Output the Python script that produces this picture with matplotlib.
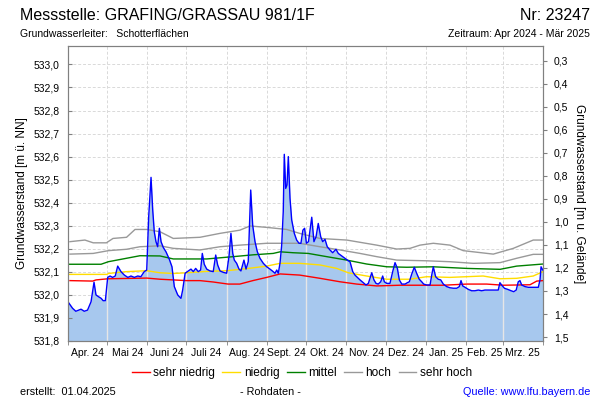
import datetime as dt
import numpy as np
import matplotlib
matplotlib.use("Agg")
import matplotlib.pyplot as plt
import matplotlib.dates as mdates
from matplotlib.lines import Line2D
from matplotlib.ticker import FixedLocator, FuncFormatter

plt.rcParams['font.family'] = ['Liberation Sans', 'DejaVu Sans']

start = dt.datetime(2024, 4, 1)
ground = 533.317  # Geländehöhe, für die rechte Achse

# Messwerte (Tag ab 01.04.2024, Wasserstand m ü. NN)
level_days = [0, 3.5, 6, 10, 12.5, 15, 17.7, 20, 21.5, 23.5, 25.5, 27, 28.7, 30.5, 32.3, 34.3,
              36.3, 38.2, 40.7, 43.3, 46, 48.4, 51, 53.6, 56, 58.6, 60.5, 62, 63.8, 65.1, 66.3,
              67.6, 68.9, 70.2, 71.5, 73.2, 75.3, 77.9, 79.9, 81.7, 84.3, 86.8, 88.1, 90, 92.5,
              94.5, 96.3, 98.1, 100.1, 101.9, 103.2, 104.7, 106.6, 109.1, 111.6, 113.5, 115,
              116.8, 119.3, 121.9, 123.7, 125.2, 126.6, 127.8, 129.6, 131.4, 132.9, 135.2, 136.8,
              138.5, 140.4, 141.9, 143.7, 145.5, 147.5, 150.1, 152.7, 155.2, 157, 159.1, 160.4,
              161.6, 162.9, 164.2, 165.4, 166.2, 167.3, 168.3, 169.3, 170.6, 171.9, 173.9, 175.7,
              177.5, 179, 180.5, 181.8, 183.2, 184.8, 187.3, 189, 190.6, 192.3, 194.2, 195.7,
              197.5, 199.2, 201.3, 203.4, 205.9, 207.7, 210.3, 212.8, 215.4, 216.7, 218.8, 220.5,
              222.3, 224.4, 226.9, 229, 230.8, 233.4, 235.1, 236.7, 238.4, 240.3, 241.8, 243.1,
              244.9, 247.4, 249.5, 251.3, 253.1, 254.6, 256.5, 259, 260.8, 262.3, 264.1, 266.1,
              267.9, 269.9, 271.8, 273.3, 275.6, 278.2, 279.5, 280.7, 282.5, 284.5, 286.4, 288.4,
              291, 293.5, 296.1, 298.7, 300.7, 302, 303.3, 305.1, 307.6, 310.2, 312.7, 315.3,
              317.9, 320.4, 323, 325.6, 328.1, 330.6, 331.9, 333.2, 335.3, 337.9, 340.5, 342.5,
              344.4, 346, 347.3, 348.6, 351.2, 353.7, 356.3, 358.8, 361.4, 362.7, 363.5, 364.8]
level = [531.970, 531.942, 531.929, 531.938, 531.929, 531.934, 531.970, 532.055, 532.000, 531.992,
         531.985, 531.975, 531.975, 532.076, 532.082, 532.076, 532.082, 532.125, 532.101, 532.086,
         532.076, 532.082, 532.076, 532.082, 532.079, 532.101, 532.108, 532.339, 532.510, 532.368,
         532.274, 532.231, 532.209, 532.289, 532.231, 532.206, 532.187, 532.154, 532.122, 532.036,
         532.000, 531.985, 532.021, 532.094, 532.104, 532.112, 532.101, 532.115, 532.101, 532.108,
         532.180, 532.133, 532.112, 532.104, 532.101, 532.173, 532.130, 532.104, 532.098, 532.094,
         532.166, 532.267, 532.180, 532.151, 532.137, 532.112, 532.104, 532.151, 532.112, 532.144,
         532.455, 532.303, 532.231, 532.187, 532.159, 532.137, 532.122, 532.112, 532.104, 532.094,
         532.108, 532.094, 532.137, 532.216, 532.361, 532.610, 532.462, 532.477, 532.600, 532.419,
         532.325, 532.267, 532.238, 532.224, 532.224, 532.281, 532.289, 532.224, 532.231, 532.337,
         532.231, 532.252, 532.310, 532.252, 532.231, 532.241, 532.209, 532.195, 532.183, 532.198,
         532.180, 532.169, 532.159, 532.148, 532.144, 532.101, 532.086, 532.076, 532.065, 532.053,
         532.043, 532.050, 532.096, 532.065, 532.050, 532.047, 532.057, 532.082, 532.057, 532.050,
         532.050, 532.101, 532.140, 532.115, 532.065, 532.047, 532.047, 532.053, 532.057, 532.090,
         532.120, 532.094, 532.068, 532.057, 532.047, 532.043, 532.043, 532.086, 532.122, 532.079,
         532.068, 532.065, 532.047, 532.036, 532.031, 532.029, 532.029, 532.036, 532.062, 532.039,
         532.033, 532.024, 532.018, 532.018, 532.021, 532.018, 532.021, 532.021, 532.021, 532.021,
         532.021, 532.053, 532.043, 532.029, 532.024, 532.018, 532.014, 532.021, 532.057, 532.062,
         532.043, 532.036, 532.033, 532.033, 532.033, 532.033, 532.065, 532.122, 532.108]

# Kennwerte
sn_days = [1.5, 19, 21.5, 30.7, 60.5, 70.7, 91.2, 101.4, 111.6, 123, 132, 142, 152.7, 163, 178,
           193.6, 209, 221.8, 237.2, 255, 275.6, 288.4, 306.4, 321.7, 334.5, 355, 360.2, 365]
sn_vals = [532.062, 532.060, 532.065, 532.070, 532.073, 532.068, 532.062, 532.062, 532.056,
           532.047, 532.047, 532.062, 532.076, 532.091, 532.086, 532.072, 532.057, 532.047,
           532.039, 532.042, 532.042, 532.042, 532.047, 532.047, 532.042, 532.044, 532.060, 532.062]
n_days = [0, 30, 31, 45, 60.5, 70.7, 81, 91.2, 106.6, 122, 137.3, 152.7, 163, 178, 193.6, 206.5,
          215.4, 229.5, 245, 262.8, 275.6, 293.5, 319, 332, 344.8, 357.5, 365]
n_vals = [532.089, 532.089, 532.093, 532.101, 532.105, 532.096, 532.093, 532.096, 532.102,
          532.105, 532.114, 532.125, 532.137, 532.137, 532.130, 532.115, 532.096, 532.082,
          532.068, 532.068, 532.079, 532.076, 532.082, 532.070, 532.072, 532.082, 532.101]
m_days = [0, 25.4, 31, 45, 55.3, 70.7, 80.9, 106.6, 127, 142.4, 157.7, 163, 173, 184.6, 198.8,
          214.2, 229.5, 245, 260.3, 280.7, 306.4, 332, 344.8, 365]
m_vals = [532.133, 532.133, 532.144, 532.159, 532.170, 532.169, 532.156, 532.156, 532.166,
          532.174, 532.180, 532.187, 532.183, 532.180, 532.166, 532.151, 532.134, 532.122,
          532.120, 532.122, 532.115, 532.111, 532.125, 532.134]
h_days = [1.5, 19.4, 31, 45, 55.3, 70.7, 80.9, 101.4, 116.8, 132.1, 152.7, 168, 178, 193.6, 209,
          224.4, 237.2, 252.6, 275.6, 293.5, 311.4, 332, 344.8, 357.5, 365]
h_vals = [532.177, 532.180, 532.192, 532.198, 532.209, 532.213, 532.202, 532.195, 532.209,
          532.216, 532.224, 532.224, 532.224, 532.209, 532.195, 532.180, 532.166, 532.151,
          532.148, 532.144, 532.137, 532.140, 532.159, 532.176, 532.176]
sh_days = [1.5, 13, 19.4, 29.5, 34.6, 45, 51.5, 60.5, 70.7, 80.9, 101.4, 116.8, 132.1, 139.8,
           152.7, 168, 178, 193.6, 214.2, 237.2, 252.6, 262.8, 270.5, 280.7, 293.5, 303.7,
           326.8, 342.2, 357.5, 365]
sh_vals = [532.231, 532.238, 532.226, 532.226, 532.245, 532.250, 532.284, 532.284, 532.274,
           532.245, 532.250, 532.267, 532.281, 532.299, 532.293, 532.284, 532.267, 532.245,
           532.238, 532.216, 532.199, 532.202, 532.216, 532.224, 532.216, 532.192, 532.177,
           532.202, 532.238, 532.238]

month_labels = ["Apr. 24", "Mai 24", "Juni 24", "Juli 24", "Aug. 24", "Sept. 24", "Okt. 24",
                "Nov. 24", "Dez. 24", "Jan. 25", "Feb. 25", "Mrz. 25"]

t0 = mdates.date2num(start)


def to_x(days):
    return t0 + np.asarray(days, dtype=float)


fig = plt.figure(figsize=(6, 4), dpi=100)
ax = fig.add_axes([68 / 600, 1 - 341 / 400, 475 / 600, 295 / 400])

x_end = mdates.date2num(dt.datetime(2025, 4, 1))
month_starts = [mdates.date2num(dt.datetime(2024 + (4 + i - 1) // 12, (4 + i - 1) % 12 + 1, 1))
                for i in range(13)]
month_mids = [(a + b) / 2 for a, b in zip(month_starts[:-1], month_starts[1:])]

ax.set_xlim(t0, x_end)
ax.set_ylim(531.8, 533.08)

# Gitter
for yv in np.arange(531.9, 533.05, 0.1):
    ax.axhline(yv, color="#d9d9d9", lw=0.7, ls=(0, (3, 2)), zorder=0)
for xv in month_starts[1:-1]:
    ax.axvline(xv, color="#d9d9d9", lw=0.7, ls=(0, (3, 2)), zorder=0)

xs = to_x(level_days)
fill = ax.fill_between(xs, level, 531.8, color="#a7c8ee", lw=0, zorder=1)
clip = fill.get_paths()[0]
for xv in month_starts[1:-1]:
    vl = ax.axvline(xv, color="#e6e6e6", lw=1.0, zorder=1.5)
    vl.set_clip_path(clip, ax.transData)

ax.plot(to_x(sh_days), sh_vals, color="#999999", lw=1.0, zorder=2)
ax.plot(to_x(h_days), h_vals, color="#999999", lw=1.0, zorder=2)
ax.plot(to_x(m_days), m_vals, color="#008000", lw=1.0, zorder=2)
ax.plot(to_x(n_days), n_vals, color="#ffdd00", lw=1.0, zorder=2)
ax.plot(to_x(sn_days), sn_vals, color="#ff0000", lw=1.0, zorder=2)
ax.plot(xs, level, color="#0000ff", lw=1.0, zorder=3)

for s in ax.spines.values():
    s.set_color("#808080")

ax.yaxis.set_major_locator(FixedLocator(np.round(np.arange(531.8, 533.05, 0.1), 1)))
ax.yaxis.set_major_formatter(FuncFormatter(lambda v, p: f"{v:.1f}".replace(".", ",")))
ax.tick_params(axis="y", direction="in", length=3, color="#808080", labelsize=7.5, pad=6)
ax.set_ylabel("Grundwasserstand [m ü. NN]", fontsize=8.5, labelpad=4)

ax.set_xticks(month_mids)
ax.set_xticklabels(month_labels)
ax.xaxis.set_minor_locator(FixedLocator(month_starts))
ax.tick_params(axis="x", which="major", length=0, labelsize=7.5, pad=5)
ax.tick_params(axis="x", which="minor", length=3, color="#808080")

# rechte Achse: m unter Gelände
ax2 = ax.twinx()
ax2.set_ylim(ground - 531.8, ground - 533.08)
ax2.yaxis.set_major_locator(FixedLocator(np.round(np.arange(0.3, 1.55, 0.1), 1)))
ax2.yaxis.set_major_formatter(FuncFormatter(lambda v, p: f"{v:.1f}".replace(".", ",")))
ax2.tick_params(axis="y", direction="out", length=3, color="#808080", labelsize=7.5, pad=5)
for s in ax2.spines.values():
    s.set_color("#808080")
ax2.set_ylabel("Grundwasserstand [m u. Gelände]", fontsize=8.5, rotation=270, labelpad=12)

# Texte
fig.text(20 / 600, 1 - 15 / 400, "Messstelle: GRAFING/GRASSAU 981/1F", fontsize=11.5,
         ha="left", va="center")
fig.text(590 / 600, 1 - 15 / 400, "Nr: 23247", fontsize=11.5, ha="right", va="center")
fig.text(20 / 600, 1 - 34 / 400, "Grundwasserleiter:   Schotterflächen", fontsize=7.5,
         ha="left", va="center")
fig.text(590 / 600, 1 - 34 / 400, "Zeitraum: Apr 2024 - Mär 2025", fontsize=7.5,
         ha="right", va="center")
fig.text(20 / 600, 1 - 392 / 400, "erstellt:  01.04.2025", fontsize=7.8, ha="left", va="center")
fig.text(270 / 600, 1 - 392 / 400, "- Rohdaten -", fontsize=7.8, ha="center", va="center")
fig.text(590 / 600, 1 - 392 / 400, "Quelle: www.lfu.bayern.de", fontsize=7.8, color="#0000ff",
         ha="right", va="center")

handles = [Line2D([], [], color=c, lw=1.0) for c in
           ["#ff0000", "#ffdd00", "#008000", "#999999", "#999999"]]
names = ["sehr niedrig", "niedrig", "mittel", "hoch", "sehr hoch"]
fig.legend(handles, names, loc="center", bbox_to_anchor=(302 / 600, 1 - 373 / 400), ncol=5,
           frameon=False, fontsize=8.6, handlelength=1.5, handletextpad=0.3, columnspacing=0.6)

fig.savefig("out.png", dpi=100)
